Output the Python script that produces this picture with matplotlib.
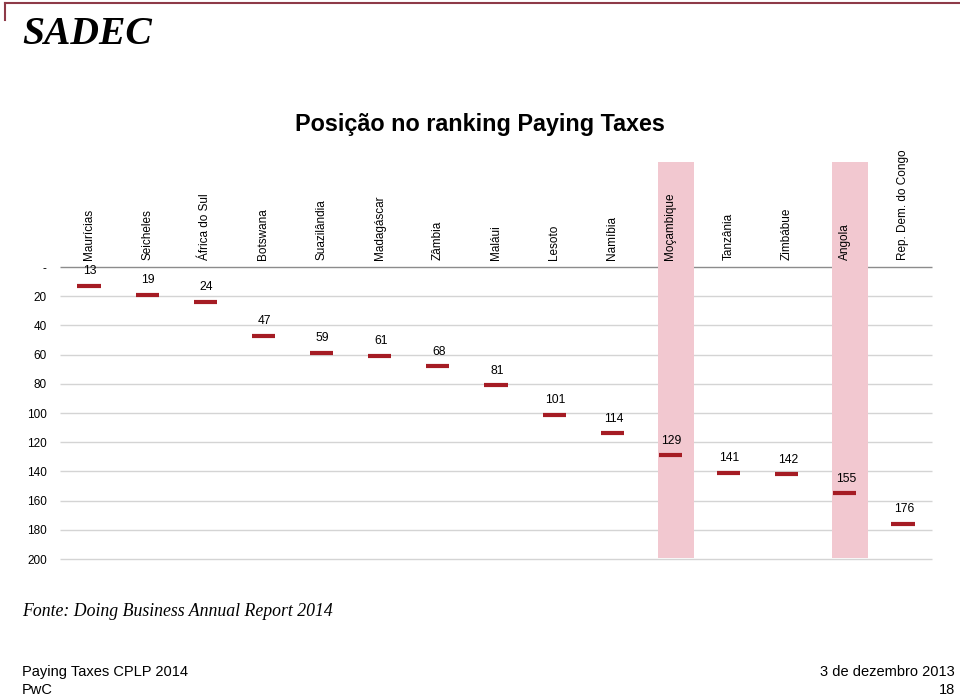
import matplotlib
matplotlib.use("Agg")
import matplotlib.pyplot as plt
from matplotlib.lines import Line2D

countries = ["Maurícias", "Seicheles", "África do Sul", "Botswana", "Suazilândia",
             "Madagáscar", "Zâmbia", "Maláui", "Lesoto", "Namíbia", "Moçambique",
             "Tanzânia", "Zimbábue", "Angola", "Rep. Dem. do Congo"]
ranks = [13, 19, 24, 47, 59, 61, 68, 81, 101, 114, 129, 141, 142, 155, 176]
highlighted = ["Moçambique", "Angola"]
yticks = [0, 20, 40, 60, 80, 100, 120, 140, 160, 180, 200]
ytick_labels = ["-", "20", "40", "60", "80", "100", "120", "140", "160", "180", "200"]

plt.rcParams['font.family'] = ['Liberation Sans', 'DejaVu Sans']

fig = plt.figure(figsize=(9.6, 6.97), dpi=100)
ax = fig.add_axes([60/960, 138/697, 872/960, 397/697])
ax.set_xlim(-0.5, len(countries) - 0.5)
ax.set_ylim(200, -72)

# gridlines
for t in yticks:
    col = "#8c8c8c" if t == 0 else "#d4d4d4"
    ax.plot([-0.5, len(countries) - 0.5], [t, t], color=col, lw=1.0, zorder=1,
            solid_capstyle="butt", clip_on=False)

# highlight bands (cover the gridlines)
for i, c in enumerate(countries):
    if c in highlighted:
        ax.add_patch(plt.Rectangle((i - 0.22, -72), 0.62, 72 + 199.3, facecolor="#f2c8d0",
                                   edgecolor="none", zorder=2))

# markers
for i, r in enumerate(ranks):
    ax.plot([i - 0.2, i + 0.2], [r, r], color="#a51c24", lw=3, zorder=3,
            solid_capstyle="butt")
    ax.text(i + 0.02, r - 6, str(r), ha="center", va="bottom", fontsize=8.7, zorder=4)

# category labels
for i, c in enumerate(countries):
    ax.text(i, -5, c, rotation=90, ha="center", va="bottom", fontsize=8.5, zorder=4)

for s in ax.spines.values():
    s.set_visible(False)
ax.set_xticks([])
ax.set_yticks(yticks)
ax.set_yticklabels(ytick_labels, fontsize=8.5)
ax.tick_params(axis="y", length=0, pad=9.5)

fig.text(480/960, 1 - 125/697, "Posição no ranking Paying Taxes", ha="center", va="center",
         fontsize=16.8, fontweight="bold")
fig.text(22/960, 1 - 34/697, "SADEC", ha="left", va="center", fontsize=28.5,
         fontweight="bold", style="italic", family=["Liberation Serif"])
fig.text(22/960, 1 - 612/697, "Fonte: Doing Business Annual Report 2014", ha="left",
         va="center", fontsize=12.8, style="italic", family=["Liberation Serif"])
fig.text(22/960, 1 - 672/697, "Paying Taxes CPLP 2014", ha="left", va="center", fontsize=10.5)
fig.text(22/960, 1 - 690/697, "PwC", ha="left", va="center", fontsize=10.5)
fig.text(955/960, 1 - 672/697, "3 de dezembro 2013", ha="right", va="center", fontsize=10.5)
fig.text(955/960, 1 - 690/697, "18", ha="right", va="center", fontsize=10.5)

# top decorative border
fig.add_artist(Line2D([5/960, 1.0], [1 - 3/697, 1 - 3/697], color="#8e3a48", lw=1.5,
                      transform=fig.transFigure))
fig.add_artist(Line2D([5/960, 5/960], [1 - 3/697, 1 - 20/697], color="#8e3a48", lw=1.5,
                      transform=fig.transFigure))

fig.savefig("out.png", dpi=100)
